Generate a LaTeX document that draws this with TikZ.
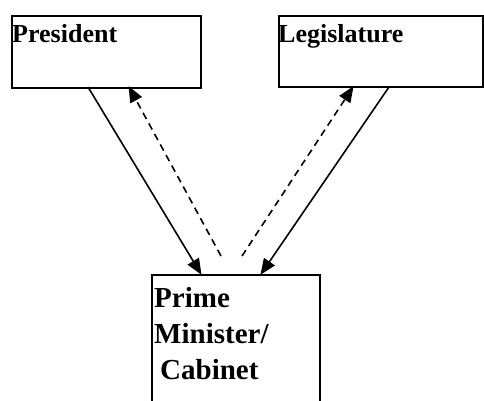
\documentclass[tikz,border=0pt]{standalone}
\usepackage{fontspec}
\setmainfont{Liberation Serif}
\usetikzlibrary{arrows.meta,positioning,calc}
\tikzset{
  arrow/.style={-{Triangle[length=16pt,width=13pt]}, line width=1.6pt, draw=black, shorten >=-1pt},
  dasharrow/.style={arrow, dash pattern=on 7pt off 5pt},
  office/.style={draw=black, line width=1.8pt, fill=white, minimum width=#1, anchor=north west, inner sep=0pt},
  title/.style={font=\bfseries\fontsize{26}{30}\selectfont, anchor=north west, inner sep=0pt, align=left}
}
\begin{document}
\begin{tikzpicture}[x=1pt,y=-1pt]
  \clip (0,0) rectangle (484,401);
  \fill[white] (0,0) rectangle (484,401);
  % Upper offices.
  \node[office=189pt, minimum height=72pt] (pres) at (11,15) {};
  \node[title] (prestext) at ($(pres.north west)+(1,9)$) {President};
  \node[office=204pt, minimum height=71pt] (legis) at (278,15) {};
  \node[title] (legistext) at ($(legis.north west)+(0,9)$) {Legislature};
  % Lower office, cut off at the bottom.
  \node[office=168pt, minimum height=160pt] (pm) at (151,274) {};
  \node[title, font=\bfseries\fontsize{29}{36}\selectfont] (pmtext) at ($(pm.north west)+(3,13)$) {Prime\\Minister/\\\hspace{6pt}Cabinet};
  % Connectors.
  \coordinate (presout) at (88,87);
  \coordinate (presin) at (129,87);
  \coordinate (legisin) at (353,87);
  \coordinate (legisout) at (389,87);
  \coordinate (pmleft) at (201,274);
  \coordinate (pmright) at (261,274);
  \coordinate (pmdashl) at (221,256);
  \coordinate (pmdashr) at (242,256);
  \draw[arrow] (presout) -- (pmleft);
  \draw[arrow] (legisout) -- (pmright);
  \draw[dasharrow] (pmdashl) -- (presin);
  \draw[dasharrow] (pmdashr) -- (legisin);
\end{tikzpicture}
\end{document}
